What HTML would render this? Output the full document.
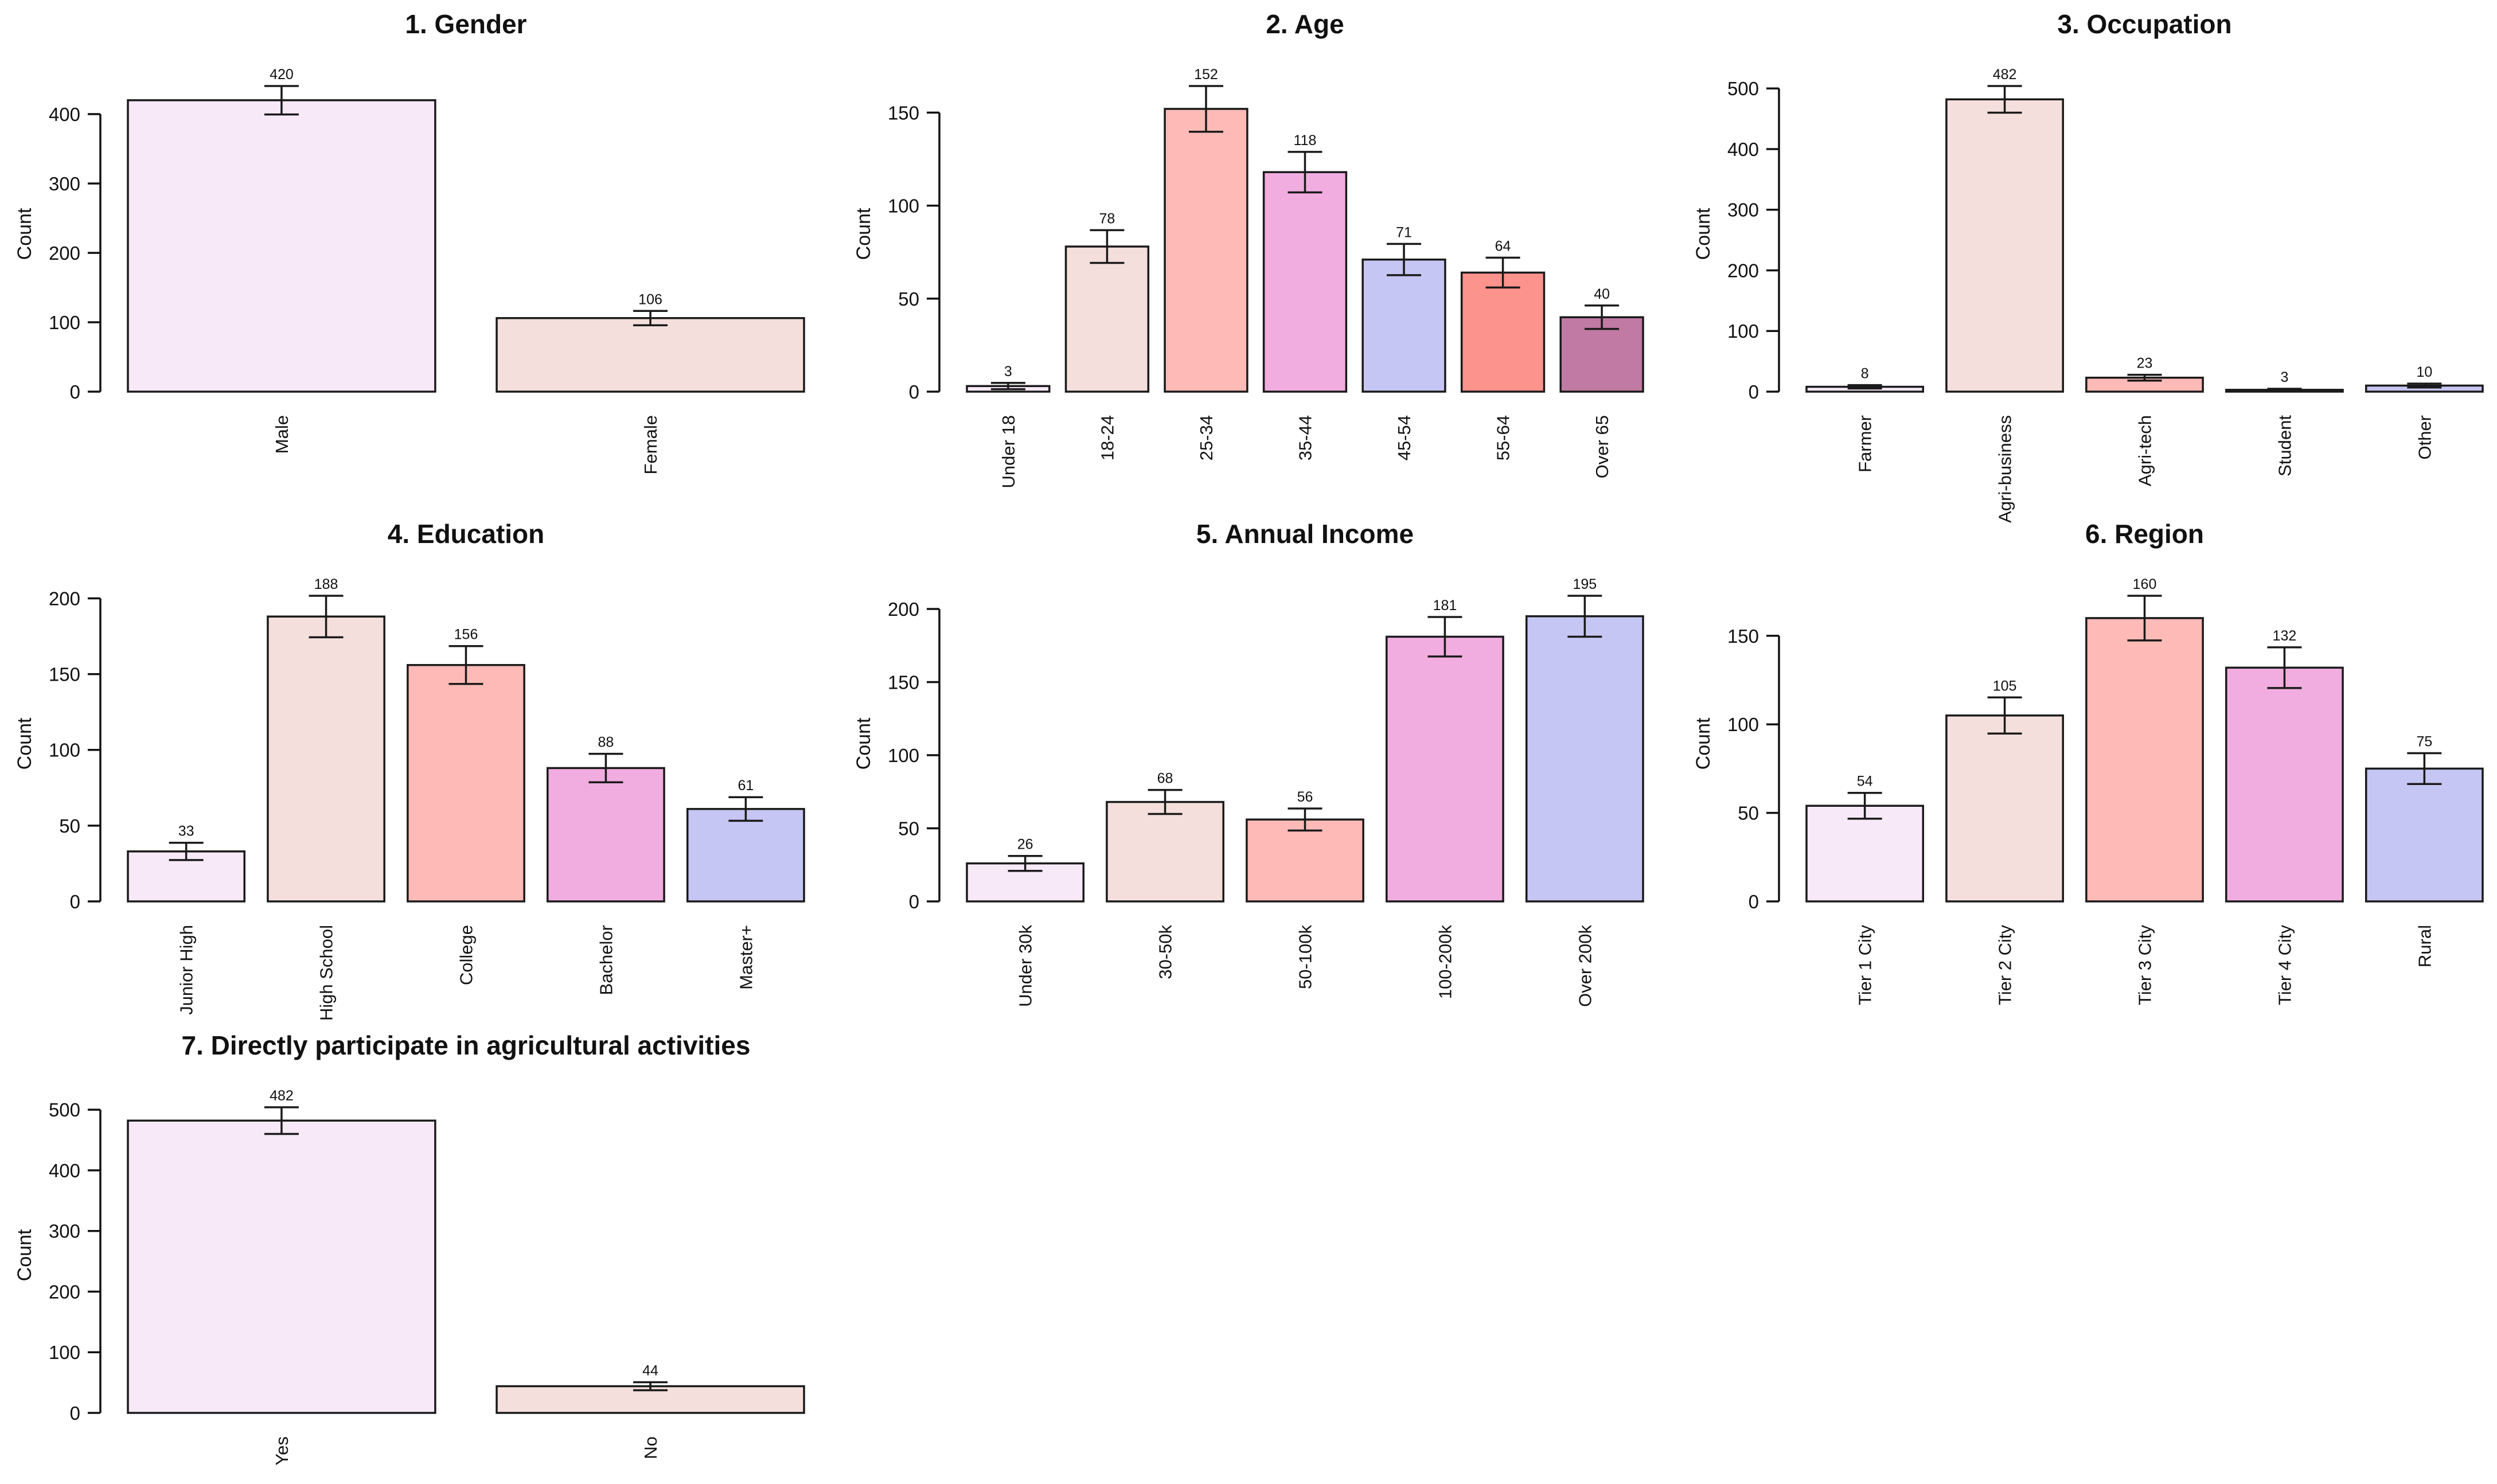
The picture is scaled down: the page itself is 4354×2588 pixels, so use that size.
<!DOCTYPE html>
<html><head><meta charset="utf-8">
<style>
html,body{margin:0;padding:0;background:#fff;}
svg{display:block;}
text{font-family:"Liberation Sans",Arial,sans-serif;fill:#111;}
</style></head>
<body>
<svg id="fig" width="4354" height="2588" viewBox="0 0 4354 2588" xmlns="http://www.w3.org/2000/svg"></svg>
<script>
// ---- Data ----
const genderCats = ["Male","Female"];
const genderVals = [420,106];
const genderErr = [20.5,10.3];
const genderTicks = [0,100,200,300,400];

const ageCats = ["Under 18","18-24","25-34","35-44","45-54","55-64","Over 65"];
const ageVals = [3,78,152,118,71,64,40];
const ageErr = [1.7,8.8,12.3,10.9,8.4,8,6.3];
const ageTicks = [0,50,100,150];

const occCats = ["Farmer","Agri-business","Agri-tech","Student","Other"];
const occVals = [8,482,23,3,10];
const occErr = [2.8,22,4.8,1.7,3.2];
const occTicks = [0,100,200,300,400,500];

const eduCats = ["Junior High","High School","College","Bachelor","Master+"];
const eduVals = [33,188,156,88,61];
const eduErr = [5.7,13.7,12.5,9.4,7.8];
const eduTicks = [0,50,100,150,200];

const incCats = ["Under 30k","30-50k","50-100k","100-200k","Over 200k"];
const incVals = [26,68,56,181,195];
const incErr = [5.1,8.2,7.5,13.5,14];
const incTicks = [0,50,100,150,200];

const regCats = ["Tier 1 City","Tier 2 City","Tier 3 City","Tier 4 City","Rural"];
const regVals = [54,105,160,132,75];
const regErr = [7.3,10.2,12.6,11.5,8.7];
const regTicks = [0,50,100,150];

const partCats = ["Yes","No"];
const partVals = [482,44];
const partErr = [22,6.6];
const partTicks = [0,100,200,300,400,500];

const palette = ["#F7E9F8","#F4DFDC","#FDBAB6","#F1ADDF","#C6C6F4","#FD938D","#C07AA3"];

const NS = "http://www.w3.org/2000/svg";
const svg = document.getElementById("fig");
function mk(tag, attrs, parent){
  const e = document.createElementNS(NS, tag);
  for (const k in attrs) e.setAttribute(k, attrs[k]);
  (parent||svg).appendChild(e);
  return e;
}

const SPAN = 1179, H = 533;
function panel(key, title, cats, vals, errs, ticks, axisX, y0){
  const g = mk("g", {});
  
  
  let maxTop = 0;
  for (let i=0;i<vals.length;i++) maxTop = Math.max(maxTop, vals[i]+errs[i]);
  const yS = v => y0 - v * H / maxTop;
  const n = cats.length;
  const w = SPAN / (n + 0.2*(n-1));
  const x0 = axisX + 48;
  const xL = i => x0 + i*1.2*w;
  // title
  const t = mk("text", {x: x0 + SPAN/2, y: y0 - 625, "text-anchor":"middle", "font-size":46, "font-weight":"bold"}, g);
  t.textContent = title;
  
  
  // y label
  const yl = mk("text", {x: 0, y: 0, "text-anchor":"middle", "font-size":34, transform:`translate(54 ${y0-275}) rotate(-90)`}, g);
  yl.setAttribute("transform", `translate(${axisX-121} ${y0-275}) rotate(-90)`);
  yl.textContent = "Count";
  
  
  // axis
  const ax = mk("line", {x1:axisX, x2:axisX, y1:yS(ticks[0]), y2:yS(ticks[ticks.length-1]), stroke:"#111", "stroke-width":3.5}, g);
  
  
  ticks.forEach(v => {
    const tk = mk("line", {x1:axisX-22, x2:axisX, y1:yS(v), y2:yS(v), stroke:"#111", "stroke-width":3.5}, g);
    
    
    const tl = mk("text", {x:axisX-35, y:yS(v)+12, "text-anchor":"end", "font-size":33}, g);
    tl.textContent = v;
    
    
  });
  cats.forEach((c,i) => {
    const v = vals[i], e = errs[i];
    const cx = xL(i) + w/2;
    const r = mk("rect", {x:xL(i), y:yS(v), width:w, height:y0-yS(v), fill:palette[i%palette.length], stroke:"#1a1a1a", "stroke-width":3.5}, g);
    
    
    const eb = mk("path", {d:`M${cx} ${yS(v-e)}V${yS(v+e)}M${cx-30} ${yS(v+e)}H${cx+30}M${cx-30} ${yS(v-e)}H${cx+30}`, stroke:"#1a1a1a", "stroke-width":3.5, fill:"none"}, g);
    
    
    const vl = mk("text", {x:cx, y:yS(v+e)-12, "text-anchor":"middle", "font-size":25}, g);
    vl.textContent = v;
    
    
    const cl = mk("text", {x:0, y:0, "text-anchor":"end", "font-size":31, transform:`translate(${cx+11} ${y0+41}) rotate(-90)`}, g);
    cl.textContent = c;
    
    
  });
}

const colX = [175, 1638, 3102];
const rowY = [683, 1572, 2464];
panel("gender","1. Gender",genderCats,genderVals,genderErr,genderTicks,colX[0],rowY[0]);
panel("age","2. Age",ageCats,ageVals,ageErr,ageTicks,colX[1],rowY[0]);
panel("occupation","3. Occupation",occCats,occVals,occErr,occTicks,colX[2],rowY[0]);
panel("education","4. Education",eduCats,eduVals,eduErr,eduTicks,colX[0],rowY[1]);
panel("income","5. Annual Income",incCats,incVals,incErr,incTicks,colX[1],rowY[1]);
panel("region","6. Region",regCats,regVals,regErr,regTicks,colX[2],rowY[1]);
panel("participation","7. Directly participate in agricultural activities",partCats,partVals,partErr,partTicks,colX[0],rowY[2]);
</script>
</body></html>
